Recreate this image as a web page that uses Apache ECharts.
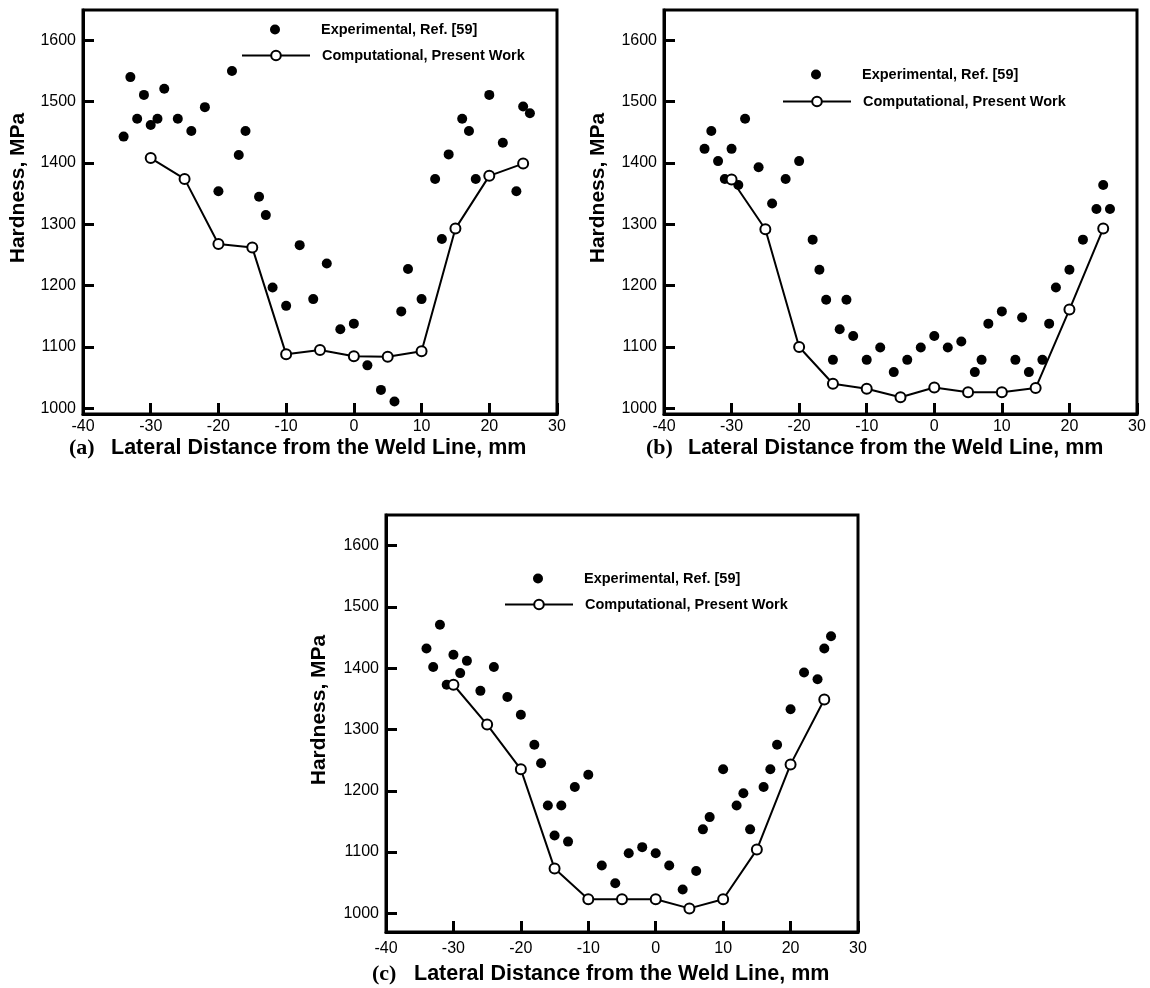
<!DOCTYPE html>
<html><head><meta charset="utf-8">
<script src="https://cdn.jsdelivr.net/npm/echarts@6/dist/echarts.min.js"></script>
<style>html,body{margin:0;padding:0;background:#fff}#c{width:1150px;height:988px}</style>
</head><body><div id="c"></div>
<script>
// ---- data ----
const xTicks = [-40, -30, -20, -10, 0, 10, 20, 30];
const yTicks = [1000, 1100, 1200, 1300, 1400, 1500, 1600];
const expName = 'Experimental, Ref. [59]';
const compName = 'Computational, Present Work';
const panelLabels = ['(a)', '(b)', '(c)'];
const xTitle = 'Lateral Distance from the Weld Line, mm';
const yTitle = 'Hardness, MPa';

// Panel (a)
const expAx = [-34,-33,-32,-31,-30,-29,-28,-26,-24,-22,-20,-18,-17,-16,-14,-13,-12,-10,-8,-6,-4,-2,0,2,4,6,7,8,10,12,13,14,16,17,18,20,22,24,25,26];
const expAy = [1443,1540,1472,1511,1462,1472,1521,1472,1452,1491,1354,1550,1413,1452,1345,1315,1197,1167,1266,1178,1236,1129,1138,1070,1030,1011,1158,1227,1178,1374,1276,1414,1472,1452,1374,1511,1433,1354,1492,1481];
const compAx = [-30,-25,-20,-15,-10,-5,0,5,10,15,20,25];
const compAy = [1408,1374,1268,1262,1088,1095,1085,1084,1093,1293,1379,1399];

// Panel (b)
const expBx = [-34,-33,-32,-31,-30,-29,-28,-26,-24,-22,-20,-18,-17,-16,-15,-14,-13,-12,-10,-8,-6,-4,-2,0,2,4,6,7,8,10,12,13,14,16,17,18,20,22,24,25,26];
const expBy = [1423,1452,1403,1374,1423,1364,1472,1393,1334,1374,1403,1275,1226,1177,1079,1129,1177,1118,1079,1099,1059,1079,1099,1118,1099,1109,1059,1079,1138,1158,1079,1148,1059,1079,1138,1197,1226,1275,1325,1364,1325];
const compBx = [-30,-25,-20,-15,-10,-5,0,5,10,15,20,25];
const compBy = [1373,1292,1100,1040,1032,1018,1034,1026,1026,1033,1161,1293];

// Panel (c)
const expCx = [-34,-33,-32,-31,-30,-29,-28,-26,-24,-22,-20,-18,-17,-16,-15,-14,-13,-12,-10,-8,-6,-4,-2,0,2,4,6,7,8,10,12,13,14,16,17,18,20,22,24,25,26];
const expCy = [1432,1402,1471,1373,1422,1392,1412,1363,1402,1353,1324,1275,1245,1176,1127,1176,1117,1206,1226,1078,1049,1098,1108,1098,1078,1039,1069,1137,1157,1235,1176,1196,1137,1206,1235,1275,1333,1393,1382,1432,1452];
const compCx = [-30,-25,-20,-15,-10,-5,0,5,10,15,20,25];
const compCy = [1373,1308,1235,1073,1023,1023,1023,1008,1023,1104,1243,1349];

const panels = [
  {ex: expAx, ey: expAy, cx: compAx, cy: compAy},
  {ex: expBx, ey: expBy, cx: compBx, cy: compBy},
  {ex: expCx, ey: expCy, cx: compCx, cy: compCy}
];

// ---- layout ----
const grids = [
  {left: 83, top: 10, width: 474, height: 404},
  {left: 664, top: 10, width: 473, height: 404},
  {left: 386, top: 515, width: 472, height: 417}
];
const yRanges = [[990.7, 1649.4], [990.7, 1649.4], [969.5, 1650]];
const legendPos = [
  {dot: 270, line: 241, r1: 27, r2: 54},
  {dot: 811, line: 782, r1: 72, r2: 100},
  {dot: 533, line: 504, r1: 576, r2: 603}
];
const titlePos = [
  {left: 69, top: 437},
  {left: 646, top: 437},
  {left: 372, top: 963}
];
const yTitlePos = [[18, 188], [598, 188], [319, 710]];

const sans = "'Liberation Sans', Arial, sans-serif";
const black = '#000';

const pair = (xs, ys) => xs.map((x, i) => [x, ys[i]]);

const option = {
  backgroundColor: '#fff',
  animation: false,
  textStyle: {fontFamily: sans, color: black},
  grid: grids.map(g => Object.assign({show: true, borderColor: black, borderWidth: 3, backgroundColor: 'transparent', containLabel: false}, g)),
  xAxis: grids.map((g, i) => ({
    type: 'value', gridIndex: i, min: -40, max: 30, interval: 10,
    axisLine: {show: true, onZero: false, lineStyle: {color: black, width: 3}},
    axisTick: {show: true, inside: true, length: 11, lineStyle: {color: black, width: 3}},
    axisLabel: {color: black, fontSize: 16, fontFamily: sans, margin: i < 2 ? 5 : 9},
    splitLine: {show: false}
  })),
  yAxis: grids.map((g, i) => ({
    type: 'value', gridIndex: i, min: yRanges[i][0], max: yRanges[i][1],
    axisLine: {show: true, onZero: false, lineStyle: {color: black, width: 3}},
    axisTick: {show: true, inside: true, length: 11, customValues: yTicks, lineStyle: {color: black, width: 3}},
    axisLabel: {color: black, fontSize: 16, fontFamily: sans, margin: 7, customValues: yTicks, formatter: v => String(v)},
    splitLine: {show: false}
  })),
  title: titlePos.map((t, i) => ({
    left: t.left, top: t.top, padding: 0,
    text: '{p|' + panelLabels[i] + '}{t|' + xTitle + '}',
    textStyle: {
      rich: {
        p: {fontFamily: "'Liberation Serif', 'Times New Roman', serif", fontWeight: 'bold', fontSize: 22, color: black, width: 42},
        t: {fontFamily: sans, fontWeight: 'bold', fontSize: 21.5, color: black}
      }
    }
  })),
  graphic: yTitlePos.map(p => ({
    type: 'text', x: p[0], y: p[1], rotation: Math.PI / 2,
    style: {text: yTitle, font: "bold 21px 'Liberation Sans', Arial, sans-serif", fill: black, align: 'center', verticalAlign: 'middle'}
  })),
  legend: [].concat(...legendPos.map(p => [
    {data: [expName], left: p.dot, top: p.r1 - 5, padding: 0, itemWidth: 68, itemHeight: 10,
     selectedMode: false, textStyle: {fontSize: 14.5, fontWeight: 'bold', color: black, fontFamily: sans, padding: [0, 0, 0, 7]}},
    {data: [compName], left: p.line, top: p.r2 - 6, padding: 0, itemWidth: 68, itemHeight: 12,
     selectedMode: false, textStyle: {fontSize: 14.5, fontWeight: 'bold', color: black, fontFamily: sans, padding: [0, 0, 0, 7]}}
  ])),
  series: [].concat(...panels.map((p, i) => [
    {type: 'scatter', name: expName, xAxisIndex: i, yAxisIndex: i, symbol: 'circle', symbolSize: 10,
     itemStyle: {color: black, opacity: 1}, data: pair(p.ex, p.ey), z: 2},
    {type: 'line', name: compName, xAxisIndex: i, yAxisIndex: i, symbol: 'emptyCircle', symbolSize: 10,
     lineStyle: {color: black, width: 2}, itemStyle: {color: black, borderColor: black, borderWidth: 2},
     data: pair(p.cx, p.cy), z: 3}
  ]))
};

const chart = echarts.init(document.getElementById('c'), null, {renderer: 'canvas'});
chart.setOption(option);
</script>
</body></html>
